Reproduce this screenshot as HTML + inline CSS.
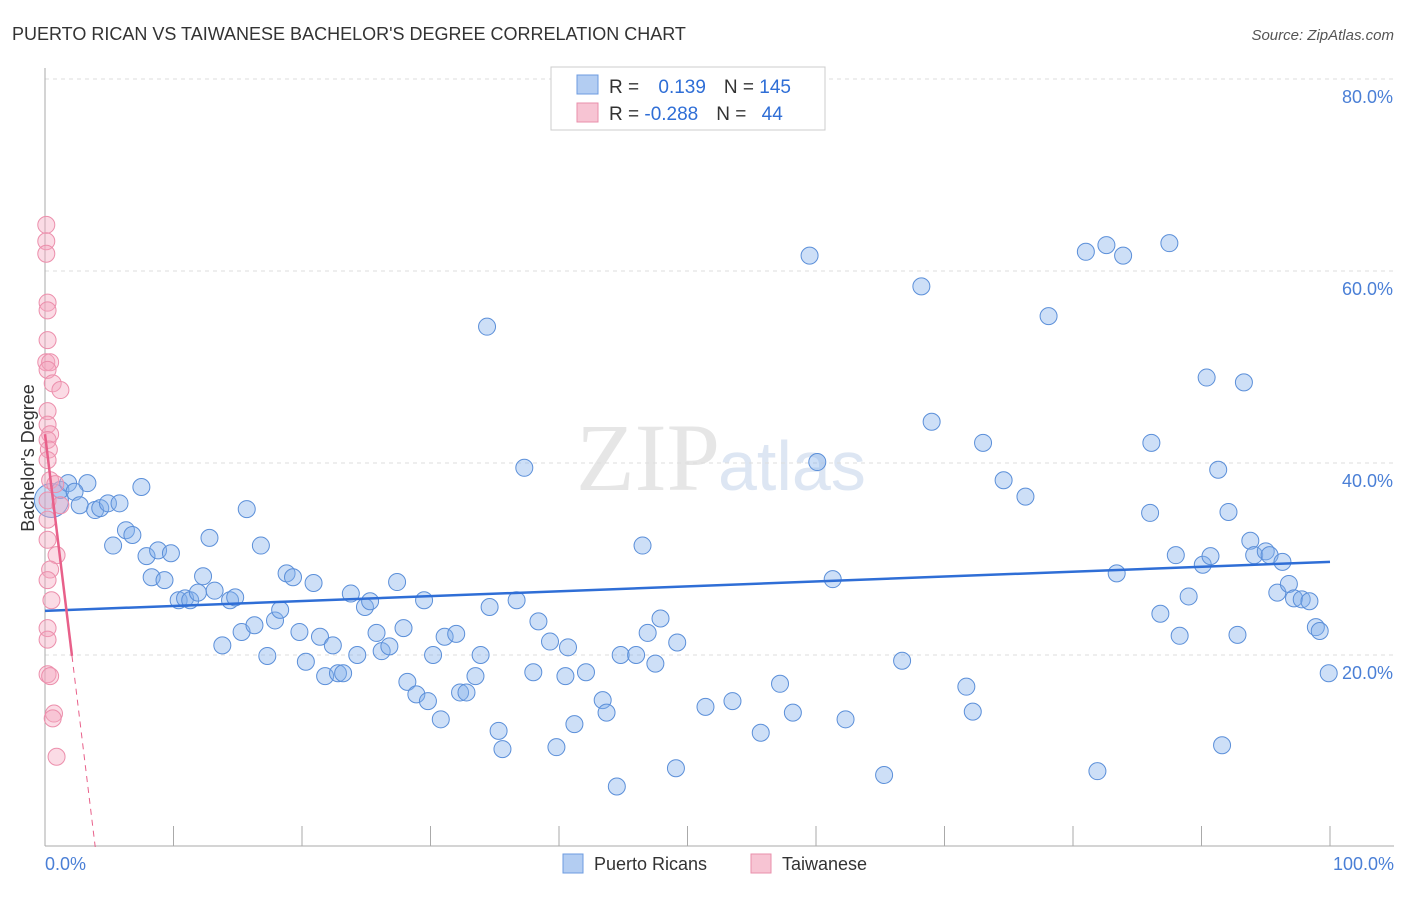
<!DOCTYPE html>
<html><head><meta charset="utf-8"><style>
body{margin:0;background:#fff;font-family:"Liberation Sans",sans-serif;}
</style></head><body>
<svg width="1406" height="892" viewBox="0 0 1406 892" xmlns="http://www.w3.org/2000/svg">
<text x="12" y="40" font-size="18" fill="#333">PUERTO RICAN VS TAIWANESE BACHELOR'S DEGREE CORRELATION CHART</text>
<text x="1394" y="40" font-size="15" fill="#555" font-style="italic" text-anchor="end">Source: ZipAtlas.com</text>
<text x="720" y="490" font-size="96" fill="#e6e6e6" font-family="Liberation Serif" text-anchor="end">ZIP</text>
<text x="718" y="490" font-size="70" fill="#dde6f3">atlas</text>
<g id="grid"></g>
<line x1="45" y1="68" x2="45" y2="846" stroke="#aaa"/>
<line x1="45" y1="846" x2="1394" y2="846" stroke="#aaa"/>
<g id="xticks"></g>
<text x="45" y="870" font-size="18" fill="#4a7fd6">0.0%</text>
<text x="1394" y="870" font-size="18" fill="#4a7fd6" text-anchor="end">100.0%</text>
<text x="34" y="458" font-size="18" fill="#333" text-anchor="middle" transform="rotate(-90 34 458)">Bachelor's Degree</text>
<g id="pts"></g>
<g id="lines"></g>
<g>
<rect x="551" y="67" width="274" height="63" fill="#fff" stroke="#ccc"/>
<rect x="577" y="75" width="21" height="19" fill="#b3cdf2" stroke="#6d9be0"/>
<rect x="577" y="103" width="21" height="19" fill="#f7c4d3" stroke="#ea8fab"/>
<text x="609" y="93" font-size="19" fill="#333">R = <tspan fill="#2f6ed6" dx="14">0.139</tspan><tspan dx="18" fill="#333">N = </tspan><tspan fill="#2f6ed6">145</tspan></text>
<text x="609" y="120" font-size="19" fill="#333">R = <tspan fill="#2f6ed6">-0.288</tspan><tspan dx="18" fill="#333">N = </tspan><tspan fill="#2f6ed6" dx="10">44</tspan></text>
</g>
<g>
<rect x="563" y="854" width="20" height="19" fill="#b3cdf2" stroke="#6d9be0"/>
<text x="594" y="870" font-size="18" fill="#333">Puerto Ricans</text>
<rect x="751" y="854" width="20" height="19" fill="#f7c4d3" stroke="#ea8fab"/>
<text x="782" y="870" font-size="18" fill="#333">Taiwanese</text>
</g>
</svg>
<script>
const yTicks=[20,40,60,80];
const yTickLabels=["20.0%","40.0%","60.0%","80.0%"];
const xTicks=[0,10,20,30,40,50,60,70,80,90,100];
const blueX=[0.5,1.2,1.8,3.3,2.3,2.7,3.9,4.3,4.9,5.8,7.5,5.3,6.3,6.8,7.9,8.3,8.8,9.3,9.8,10.4,10.9,11.3,11.9,12.3,12.8,13.2,13.8,14.4,14.8,15.3,15.7,16.3,16.8,17.3,17.9,18.3,18.8,19.3,19.8,20.3,20.9,21.4,21.8,22.4,22.8,23.2,23.8,24.3,24.9,25.3,25.8,26.2,26.8,27.4,27.9,28.2,28.9,29.5,29.8,30.2,30.8,31.1,32.0,32.3,32.8,33.5,33.9,34.4,34.6,35.3,35.6,36.7,37.3,38.0,38.4,39.3,39.8,40.5,40.7,41.2,42.1,43.4,43.7,44.5,44.8,46.0,46.5,46.9,47.5,47.9,49.1,49.2,51.4,53.5,55.7,57.2,58.2,59.5,60.1,61.3,62.3,65.3,66.7,68.2,69.0,71.7,72.2,73.0,74.6,76.3,78.1,81.0,81.9,82.6,83.4,83.9,86.0,86.1,86.8,87.5,88.0,88.3,89.0,90.1,90.4,90.7,91.3,91.6,92.1,92.8,93.3,93.8,94.1,95.0,95.3,95.9,96.3,96.8,97.2,97.8,98.4,98.9,99.2,99.9];
const blueY=[36.1,37.2,37.9,37.9,37.0,35.6,35.1,35.3,35.8,35.8,37.5,31.4,33.0,32.5,30.3,28.1,30.9,27.8,30.6,25.7,25.9,25.7,26.5,28.2,32.2,26.7,21.0,25.7,26.0,22.4,35.2,23.1,31.4,19.9,23.6,24.7,28.5,28.1,22.4,19.3,27.5,21.9,17.8,21.0,18.1,18.1,26.4,20.0,25.0,25.6,22.3,20.4,20.9,27.6,22.8,17.2,15.9,25.7,15.2,20.0,13.3,21.9,22.2,16.1,16.1,17.8,20.0,54.2,25.0,12.1,10.2,25.7,39.5,18.2,23.5,21.4,10.4,17.8,20.8,12.8,18.2,15.3,14.0,6.3,20.0,20.0,31.4,22.3,19.1,23.8,8.2,21.3,14.6,15.2,11.9,17.0,14.0,61.6,40.1,27.9,13.3,7.5,19.4,58.4,44.3,16.7,14.1,42.1,38.2,36.5,55.3,62.0,7.9,62.7,28.5,61.6,34.8,42.1,24.3,62.9,30.4,22.0,26.1,29.4,48.9,30.3,39.3,10.6,34.9,22.1,48.4,31.9,30.4,30.8,30.4,26.5,29.7,27.4,25.9,25.8,25.6,22.9,22.5,18.1];
const pinkX=[0.1,0.1,0.1,0.2,0.2,0.2,0.1,0.4,0.2,0.6,1.2,0.2,0.2,0.4,0.2,0.3,0.2,0.4,0.8,0.2,0.2,1.2,0.2,0.9,0.4,0.2,0.5,0.2,0.2,0.2,0.4,0.7,0.6,0.9];
const pinkY=[64.8,63.1,61.8,56.7,55.9,52.8,50.5,50.5,49.7,48.3,47.6,45.4,44.0,43.0,42.4,41.4,40.3,38.2,37.8,36.1,34.1,35.6,32.0,30.4,28.9,27.8,25.7,22.8,21.6,18.0,17.8,13.9,13.4,9.4];
const blueTrend=[24.6,29.7];
const pinkTrend=[43,-11];
const NS="http://www.w3.org/2000/svg";
const sx=v=>45+v*12.85, sy=v=>847-v*9.6;
function mk(t,a,p){const e=document.createElementNS(NS,t);for(const k in a)e.setAttribute(k,a[k]);p.appendChild(e);return e;}
const grid=document.getElementById('grid');
yTicks.forEach((t,i)=>{
  const l=mk('line',{x1:45,x2:1394,y1:sy(t),y2:sy(t),stroke:'#ddd','stroke-dasharray':'4,4'},grid);
  
  
  const tx=mk('text',{x:1393,y:sy(t)+24,'font-size':18,fill:'#4a7fd6','text-anchor':'end'},grid);
  tx.textContent=yTickLabels[i];
  
  
});
const xt=document.getElementById('xticks');
xTicks.forEach(t=>{
  const l=mk('line',{x1:sx(t),x2:sx(t),y1:826,y2:846,stroke:'#aaa'},xt);
  
  
});
const pts=document.getElementById('pts');
blueX.forEach((x,i)=>{
  const c=mk('circle',{cx:sx(x),cy:sy(blueY[i]),r:i==0?17:8.5,fill:'rgba(130,175,235,0.4)',stroke:'#5b8fd9','stroke-width':1},pts);
  
  
});
pinkX.forEach((x,i)=>{
  const c=mk('circle',{cx:sx(x),cy:sy(pinkY[i]),r:8.5,fill:'rgba(245,165,190,0.4)',stroke:'#ec8fac','stroke-width':1},pts);
  
  
});
const lg=document.getElementById('lines');
const bl=mk('line',{x1:sx(0),y1:sy(blueTrend[0]),x2:sx(100),y2:sy(blueTrend[1]),stroke:'#2f6ed6','stroke-width':2.5},lg);


const pf=x=>pinkTrend[0]+pinkTrend[1]*x;
const xEnd=-pinkTrend[0]/pinkTrend[1];
const pl=mk('line',{x1:sx(0),y1:sy(pf(0)),x2:sx(2.1),y2:sy(pf(2.1)),stroke:'#e8608a','stroke-width':2.5},lg);


const pd=mk('line',{x1:sx(2.1),y1:sy(pf(2.1)),x2:sx(xEnd),y2:sy(0),stroke:'#e8608a','stroke-width':1,'stroke-dasharray':'6,5'},lg);


</script>
</body></html>
